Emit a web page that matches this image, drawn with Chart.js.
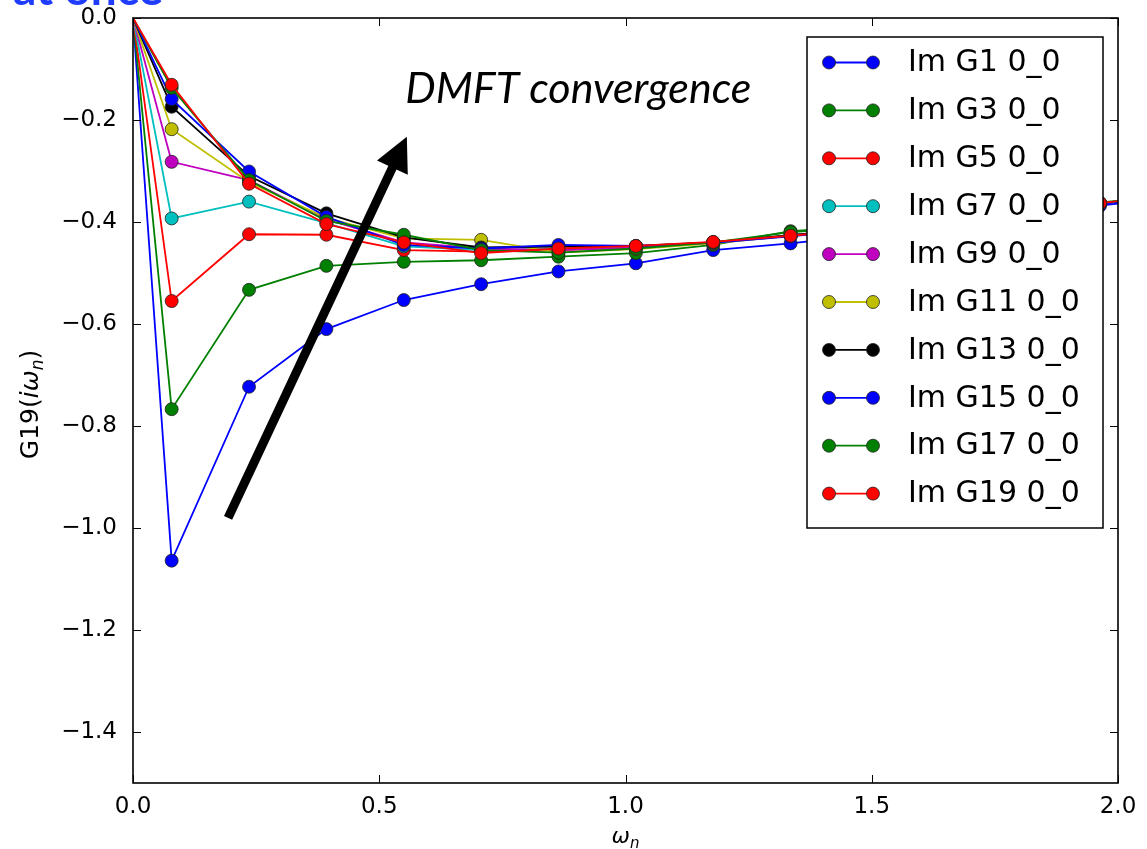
<!DOCTYPE html>
<html>
<head>
<meta charset="utf-8">
<script src="https://cdn.jsdelivr.net/npm/chart.js@4"></script>
<style>
  html, body { margin: 0; padding: 0; background: #fff; }
  #wrap { width: 1147px; height: 849px; }
</style>
</head>
<body>
<div id="wrap"><canvas id="gChart" width="1147" height="849"></canvas></div>
<script>
// Matsubara frequencies (x axis)
const omega = [0, 0.0785, 0.2356, 0.3927, 0.5498, 0.7069, 0.8639, 1.0210, 1.1781, 1.3352, 1.4923, 1.6493, 1.8064, 1.9635, 2.1206];

// Im G for each DMFT iteration
const g1  = [0, -1.064, -0.723, -0.610, -0.553, -0.522, -0.497, -0.481, -0.455, -0.442, -0.425, -0.405, -0.386, -0.368, -0.350];
const g3  = [0, -0.767, -0.533, -0.486, -0.478, -0.475, -0.468, -0.461, -0.445, -0.418, -0.408, -0.393, -0.378, -0.362, -0.346];
const g5  = [0, -0.555, -0.424, -0.425, -0.455, -0.458, -0.455, -0.450, -0.440, -0.426, -0.412, -0.396, -0.380, -0.364, -0.347];
const g7  = [0, -0.393, -0.360, -0.402, -0.448, -0.455, -0.452, -0.448, -0.440, -0.426, -0.412, -0.396, -0.380, -0.364, -0.347];
const g9  = [0, -0.282, -0.318, -0.395, -0.440, -0.452, -0.455, -0.450, -0.441, -0.427, -0.413, -0.397, -0.381, -0.364, -0.347];
const g11 = [0, -0.218, -0.322, -0.392, -0.432, -0.435, -0.460, -0.453, -0.442, -0.427, -0.413, -0.397, -0.381, -0.364, -0.347];
const g13 = [0, -0.174, -0.310, -0.383, -0.430, -0.450, -0.448, -0.447, -0.440, -0.426, -0.412, -0.396, -0.380, -0.364, -0.347];
const g15 = [0, -0.159, -0.301, -0.390, -0.445, -0.452, -0.445, -0.447, -0.441, -0.428, -0.413, -0.397, -0.381, -0.365, -0.348];
const g17 = [0, -0.137, -0.318, -0.398, -0.425, -0.455, -0.460, -0.452, -0.440, -0.420, -0.410, -0.395, -0.379, -0.363, -0.346];
const g19 = [0, -0.131, -0.325, -0.404, -0.440, -0.461, -0.452, -0.447, -0.439, -0.427, -0.413, -0.397, -0.381, -0.363, -0.346];

const seriesLabels = ['Im G1 0_0', 'Im G3 0_0', 'Im G5 0_0', 'Im G7 0_0', 'Im G9 0_0',
                      'Im G11 0_0', 'Im G13 0_0', 'Im G15 0_0', 'Im G17 0_0', 'Im G19 0_0'];
const seriesValues = [g1, g3, g5, g7, g9, g11, g13, g15, g17, g19];
const seriesColors = ['#0000ff', '#008000', '#ff0000', '#00bfbf', '#bf00bf',
                      '#bfbf00', '#000000', '#0000ff', '#008000', '#ff0000'];

// Tick labels
const xTicks = [0, 0.5, 1.0, 1.5, 2.0];
const yTicks = [0, -0.2, -0.4, -0.6, -0.8, -1.0, -1.2, -1.4];

// Annotation arrow (data coords) and its label
const arrowFrom = [0.193, -0.980];
const arrowTo = [0.556, -0.233];
const noteText = 'DMFT convergence';
const notePos = [0.553, -0.167];

const tickFont = { family: 'DejaVu Sans', size: 23 };

function fmt(v) {
    return v.toFixed(1).replace('-', '\u2212');
}

// Frame, inward ticks, arrow, legend and titles drawn over the data
const decor = {
    id: 'decor',
    afterDatasetsDraw(chart) {
        const { ctx, chartArea: a, scales: { x, y } } = chart;
        ctx.save();

        // inward ticks on all four sides
        ctx.strokeStyle = '#000';
        ctx.lineWidth = 1;
        ctx.beginPath();
        xTicks.forEach(v => {
            const px = Math.round(x.getPixelForValue(v)) + 0.5;
            ctx.moveTo(px, a.bottom); ctx.lineTo(px, a.bottom - 8);
            ctx.moveTo(px, a.top); ctx.lineTo(px, a.top + 8);
        });
        yTicks.forEach(v => {
            const py = Math.round(y.getPixelForValue(v)) + 0.5;
            ctx.moveTo(a.left, py); ctx.lineTo(a.left + 8, py);
            ctx.moveTo(a.right, py); ctx.lineTo(a.right - 8, py);
        });
        ctx.stroke();

        // frame
        ctx.lineWidth = 1.6;
        ctx.strokeRect(a.left, a.top, a.right - a.left, a.bottom - a.top);

        // arrow
        const x0 = x.getPixelForValue(arrowFrom[0]), y0 = y.getPixelForValue(arrowFrom[1]);
        const x1 = x.getPixelForValue(arrowTo[0]), y1 = y.getPixelForValue(arrowTo[1]);
        const len = Math.hypot(x1 - x0, y1 - y0);
        const ux = (x1 - x0) / len, uy = (y1 - y0) / len;
        const headL = 34, headW = 17;
        const bx = x1 - ux * headL, by = y1 - uy * headL;
        ctx.strokeStyle = '#000';
        ctx.lineWidth = 9;
        ctx.beginPath();
        ctx.moveTo(x0, y0);
        ctx.lineTo(bx + ux * 2, by + uy * 2);
        ctx.stroke();
        ctx.fillStyle = '#000';
        ctx.beginPath();
        ctx.moveTo(x1, y1);
        ctx.lineTo(bx - uy * headW, by + ux * headW);
        ctx.lineTo(bx + uy * headW, by - ux * headW);
        ctx.closePath();
        ctx.fill();

        // annotation text
        ctx.font = 'italic 43px Lato';
        ctx.textAlign = 'left';
        ctx.textBaseline = 'alphabetic';
        ctx.fillText(noteText, x.getPixelForValue(notePos[0]), y.getPixelForValue(notePos[1]));

        // legend
        const lw = 296, lh = 491;
        const lx = a.right - 15 - lw, ly = a.top + 19;
        ctx.fillStyle = '#fff';
        ctx.fillRect(lx, ly, lw, lh);
        ctx.lineWidth = 1.5;
        ctx.strokeStyle = '#000';
        ctx.strokeRect(lx, ly, lw, lh);
        ctx.font = '30px DejaVu Sans';
        ctx.textBaseline = 'middle';
        seriesLabels.forEach((lab, i) => {
            const cy = ly + 25.5 + i * 47.9;
            const sx0 = lx + 22, sx1 = lx + 66;
            ctx.strokeStyle = seriesColors[i];
            ctx.lineWidth = 1.8;
            ctx.beginPath(); ctx.moveTo(sx0, cy); ctx.lineTo(sx1, cy); ctx.stroke();
            [sx0, sx1].forEach(sx => {
                ctx.beginPath();
                ctx.arc(sx, cy, 6.5, 0, Math.PI * 2);
                ctx.fillStyle = seriesColors[i];
                ctx.fill();
                ctx.lineWidth = 0.8;
                ctx.strokeStyle = '#222';
                ctx.stroke();
            });
            ctx.fillStyle = '#000';
            ctx.fillText(lab, lx + 101, cy + 1);
        });

        // x title: omega_n
        const xc = (a.left + a.right) / 2;
        ctx.textBaseline = 'alphabetic';
        ctx.font = 'italic 22px DejaVu Sans';
        const wW = ctx.measureText('\u03c9').width;
        ctx.font = 'italic 15px DejaVu Sans';
        const nW = ctx.measureText('n').width;
        let tx = xc - (wW + nW) / 2;
        ctx.font = 'italic 22px DejaVu Sans';
        ctx.fillText('\u03c9', tx, 843);
        ctx.font = 'italic 15px DejaVu Sans';
        ctx.fillText('n', tx + wW, 848);

        // y title: G19(i omega_n)
        ctx.translate(29, (a.top + a.bottom) / 2 + 4);
        ctx.rotate(-Math.PI / 2);
        const parts = [
            ['G19(', '25px DejaVu Sans', 0],
            ['i\u03c9', 'italic 25px DejaVu Sans', 0],
            ['n', 'italic 17px DejaVu Sans', 5],
            [')', '25px DejaVu Sans', 0]
        ];
        let total = 0;
        parts.forEach(p => { ctx.font = p[1]; total += ctx.measureText(p[0]).width; });
        let px = -total / 2;
        ctx.fillStyle = '#000';
        parts.forEach(p => {
            ctx.font = p[1];
            ctx.fillText(p[0], px, 9 + p[2]);
            px += ctx.measureText(p[0]).width;
        });

        ctx.restore();
    },
    afterDraw(chart) {
        const { ctx } = chart;
        ctx.save();
        ctx.fillStyle = '#1f3cff';
        ctx.font = 'bold 46px Lato';
        ctx.textBaseline = 'alphabetic';
        ctx.fillText('at once', 13, 5);
        ctx.restore();
    }
};

const datasets = seriesValues.map((vals, i) => ({
    label: seriesLabels[i],
    data: omega.map((w, j) => ({ x: w, y: vals[j] })),
    borderColor: seriesColors[i],
    backgroundColor: seriesColors[i],
    borderWidth: 1.8,
    pointRadius: ctx => (ctx.dataIndex === 0 ? 0 : 6.5),
    pointBorderColor: '#222',
    pointBorderWidth: 0.8,
    tension: 0,
    fill: false,
    order: seriesValues.length - i
}));

// drop the label overflow padding so the plot box sits where the layout says
function noOverflow(s) {
    s.paddingTop = 0;
    s.paddingBottom = 0;
    s.paddingLeft = 0;
    s.paddingRight = 0;
}

new Chart(document.getElementById('gChart'), {
    type: 'line',
    data: { datasets },
    options: {
        responsive: false,
        animation: false,
        devicePixelRatio: 1,
        layout: { padding: { top: 18, right: 29, left: 0, bottom: 0 } },
        plugins: {
            legend: { display: false },
            tooltip: { enabled: false }
        },
        scales: {
            x: {
                type: 'linear',
                min: 0,
                max: 2,
                afterBuildTicks: s => { s.ticks = xTicks.map(v => ({ value: v })); },
                afterFit: s => { s.height = 66; noOverflow(s); },
                grid: { display: false, tickLength: 0 },
                border: { display: false },
                ticks: {
                    font: tickFont,
                    color: '#000',
                    padding: 10,
                    maxRotation: 0,
                    callback: v => fmt(v)
                }
            },
            y: {
                type: 'linear',
                min: -1.5,
                max: 0,
                afterBuildTicks: s => { s.ticks = yTicks.map(v => ({ value: v })); },
                afterFit: s => { s.width = 133; noOverflow(s); },
                grid: { display: false, tickLength: 0 },
                border: { display: false },
                ticks: {
                    font: tickFont,
                    color: '#000',
                    padding: 16,
                    callback: v => fmt(v)
                }
            }
        }
    },
    plugins: [decor]
});
</script>
</body>
</html>
